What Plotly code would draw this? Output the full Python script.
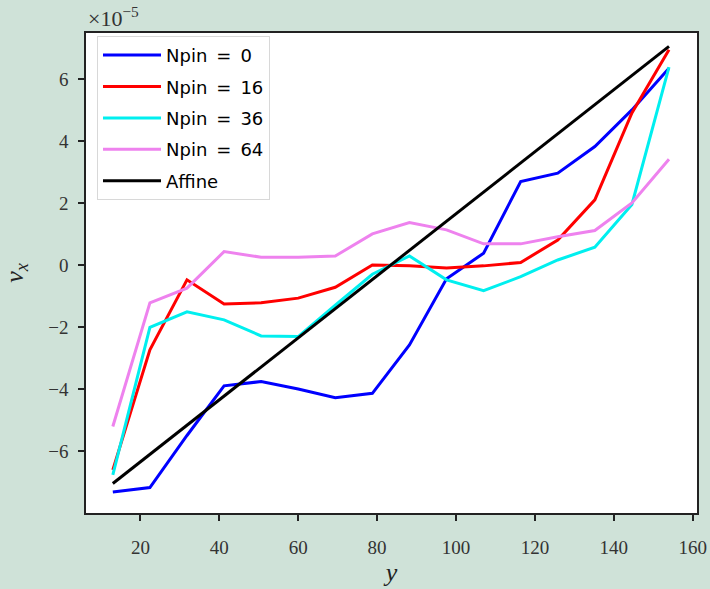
import plotly.graph_objects as go

y_pos = [13.0, 22.4, 31.8, 41.2, 50.6, 60.0, 69.4, 78.8, 88.2, 97.6, 107.0, 116.4, 125.8, 135.2, 144.6, 154.0]

npin0 = [-7.32, -7.18, -5.5, -3.9, -3.76, -4.0, -4.28, -4.14, -2.58, -0.45, 0.38, 2.69, 2.96, 3.82, 5.0, 6.34]
npin16 = [-6.61, -2.74, -0.48, -1.26, -1.22, -1.07, -0.72, 0.0, -0.03, -0.1, -0.03, 0.08, 0.8, 2.1, 4.9, 6.94]
npin36 = [-6.77, -2.01, -1.51, -1.77, -2.29, -2.31, -1.3, -0.3, 0.29, -0.48, -0.83, -0.38, 0.16, 0.57, 1.95, 6.38]
npin64 = [-5.21, -1.22, -0.75, 0.43, 0.25, 0.25, 0.29, 1.0, 1.37, 1.13, 0.68, 0.68, 0.91, 1.11, 2.0, 3.41]
affine_y = [13.0, 154.0]
affine_v = [-7.05, 7.05]

series = [
    ("Npin\u2002=\u20020", y_pos, npin0, "#0000ff"),
    ("Npin\u2002=\u200216", y_pos, npin16, "#ff0000"),
    ("Npin\u2002=\u200236", y_pos, npin36, "#00efef"),
    ("Npin\u2002=\u200264", y_pos, npin64, "#ee82ee"),
    ("Affine", affine_y, affine_v, "#000000"),
]

x_ticks = [20, 40, 60, 80, 100, 120, 140, 160]
y_ticks = [-6, -4, -2, 0, 2, 4, 6]

fig = go.Figure()
for i, (name, xs, vs, col) in enumerate(series):
    fig.add_trace(go.Scatter(x=xs, y=vs, mode="lines", name=name,
                             legendgroup=f"g{i}",
                             line=dict(color=col, width=3)))

bg = "#cfe2d8"
serif = "Liberation Serif, DejaVu Serif, serif"
fig.update_layout(
    width=710, height=589,
    paper_bgcolor=bg, plot_bgcolor="white",
    margin=dict(l=86, r=13, t=33, b=76, autoexpand=False),
    showlegend=True,
    legend=dict(x=0.018, y=0.994, xanchor="left", yanchor="top",
                bgcolor="white", bordercolor="#d8d8d8", borderwidth=1,
                font=dict(family="DejaVu Sans, sans-serif", size=18, color="black"),
                itemwidth=58, tracegroupgap=5),
    xaxis=dict(range=[6.2, 161.1], tickvals=x_ticks, ticks="outside", ticklen=6,
               tickwidth=1.5, tickcolor="#222", showline=True, linecolor="#222",
               linewidth=1.5, mirror=True, showgrid=False, zeroline=False,
               ticklabelstandoff=10, automargin=False,
               tickfont=dict(family=serif, size=19, color="#333"),
               title=dict(text="<i>y</i>", font=dict(family=serif, size=26, color="#222"), standoff=6)),
    yaxis=dict(range=[-8.0, 7.48], tickvals=y_ticks, ticks="outside", ticklen=6,
               tickwidth=1.5, tickcolor="#222", showline=True, linecolor="#222",
               linewidth=1.5, mirror=True, showgrid=False, zeroline=False,
               ticklabelstandoff=6, automargin=False,
               tickfont=dict(family=serif, size=19, color="#333"),
               title=dict(text="<i>v<sub>x</sub></i>", font=dict(family=serif, size=26, color="#222"), standoff=18)),
    annotations=[dict(text="×10<sup>−5</sup>", x=0, y=1, xref="paper", yref="paper",
                      xanchor="left", yanchor="bottom", showarrow=False, yshift=0,
                      font=dict(family=serif, size=22, color="#333"))],
)

fig.write_html("out.html")
